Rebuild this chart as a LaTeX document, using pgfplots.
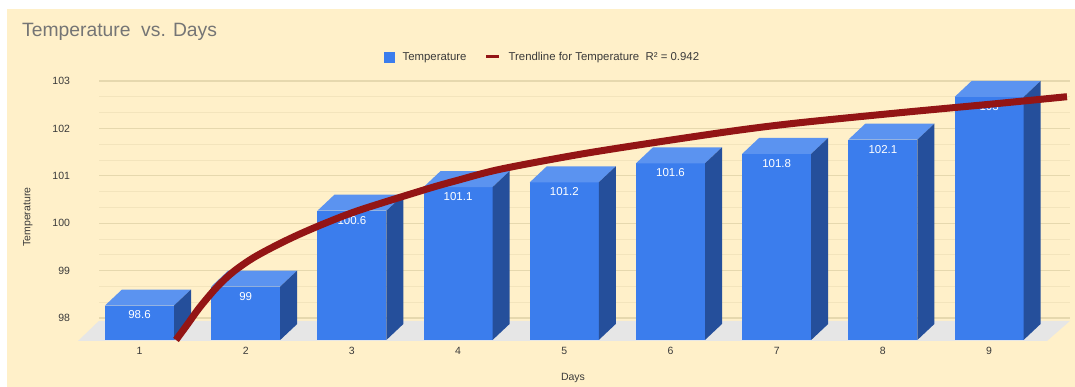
\documentclass[border=0pt]{standalone}
\usepackage{pgfplots}
\pgfplotsset{compat=1.18}
\usepackage{pgfplotstable}
\usepackage{fontspec}
\setmainfont{Liberation Sans}

\definecolor{bgcol}{HTML}{FFF0C9}
\definecolor{barfront}{HTML}{3B7DED}
\definecolor{bartop}{HTML}{5B93F0}
\definecolor{barside}{HTML}{254F9B}
\definecolor{floorcol}{HTML}{E6E6E6}
\definecolor{trendcol}{HTML}{931515}
\definecolor{gridmajor}{HTML}{E6D8AE}
\definecolor{gridminor}{HTML}{F3E4BC}
\definecolor{ticktext}{HTML}{3A3A3A}
\definecolor{titletext}{HTML}{757575}

% daily temperature readings
\pgfplotstableread{
day temp
1 98.6
2 99
3 100.6
4 101.1
5 101.2
6 101.6
7 101.8
8 102.1
9 103
}\temps

% bar geometry: half width, depth offsets, front base level
\def\hw{0.325}
\def\dx{0.16}
\def\dy{0.3376}
\def\yb{97.536}

\begin{document}
\begin{tikzpicture}
\fill[white] (0pt,0pt) rectangle (1075pt,387pt);
\fill[bgcol] (7pt,0pt) rectangle (1075pt,378pt);
\begin{axis}[
  at={(0pt,0pt)}, anchor=south west,
  scale only axis, width=1075pt, height=387pt,
  xmin=-0.3136, xmax=9.809, ymin=96.544, ymax=104.709,
  axis line style={draw=none}, tick style={draw=none},
  xtick={1,...,9}, ytick={98,...,103},
  /pgf/number format/assume math mode=true,
  tick label style={font=\fontsize{10.5}{12}\selectfont, text=ticktext},
  yticklabel style={anchor=east, xshift=73.5pt},
  xticklabel style={anchor=center, yshift=36pt},
  xlabel={Days}, ylabel={Temperature},
  label style={font=\fontsize{10.5}{12}\selectfont, text=ticktext},
  xlabel style={at={(rel axis cs:0.533,0.0233)}, anchor=center},
  ylabel style={at={(rel axis cs:0.026,0.439)}, anchor=center},
  legend style={at={(rel axis cs:0.3572,0.8527)}, anchor=west, draw=none, fill=none,
    font=\fontsize{11.4}{13}\selectfont, text=ticktext, inner sep=0pt,
    /tikz/every odd column/.append style={column sep=6pt},
    /tikz/every even column/.append style={column sep=16pt}},
  legend columns=-1,
]
% horizontal grid on the back wall
\pgfplotsinvokeforeach{98.333,98.667,99.333,99.667,100.333,100.667,101.333,101.667,102.333,102.667}{
  \draw[gridminor, line width=0.9pt] (axis cs:0.619,#1) -- (axis cs:9.762,#1);
}
\pgfplotsinvokeforeach{98,...,103}{
  \draw[gridmajor, line width=1.2pt] (axis cs:0.619,#1) -- (axis cs:9.762,#1);
}
% floor
\addplot[fill=floorcol, draw=none, forget plot] coordinates {(0.421,97.515) (9.545,97.515) (9.762,97.94) (0.619,97.94)};
% 3D bars with value labels
\pgfplotsforeachungrouped \i in {0,...,8}{%
  \pgfplotstablegetelem{\i}{day}\of\temps \let\dd\pgfplotsretval
  \pgfplotstablegetelem{\i}{temp}\of\temps \let\vv\pgfplotsretval
  \pgfmathsetmacro\xl{\dd-\hw}%
  \pgfmathsetmacro\xr{\dd+\hw}%
  \pgfmathsetmacro\xlb{\dd-\hw+\dx}%
  \pgfmathsetmacro\xrb{\dd+\hw+\dx}%
  \pgfmathsetmacro\yt{\vv-\dy}%
  \pgfmathsetmacro\ybb{\yb+\dy}%
  \pgfmathsetmacro\yl{\vv-\dy-0.2}%
  \edef\drawbar{%
    \noexpand\addplot[fill=barfront, draw=none, forget plot] coordinates {(\xl,\yb) (\xl,\yt) (\xr,\yt) (\xr,\yb)};
    \noexpand\addplot[fill=bartop, draw=none, forget plot] coordinates {(\xl,\yt) (\xlb,\vv) (\xrb,\vv) (\xr,\yt)};
    \noexpand\addplot[fill=barside, draw=none, forget plot] coordinates {(\xr,\yb) (\xr,\yt) (\xrb,\vv) (\xrb,\ybb)};
    \noexpand\node[text=white, font=\noexpand\fontsize{11.5}{13}\noexpand\selectfont] at (axis cs:\dd,\yl) {\vv};
  }%
  \drawbar
}
% logarithmic trendline
\addplot[trendcol, line width=7pt, smooth, line cap=butt, forget plot] coordinates {
  (1.3437,97.5359) (1.4473,97.8523) (1.5697,98.2321) (1.7298,98.6540) (1.8804,98.9705)
  (2.0687,99.2658) (2.2947,99.5401) (2.5113,99.7722) (2.7655,100.0148) (3.0763,100.2785)
  (3.7072,100.7215) (3.9896,100.9008) (4.3945,101.1371) (5.1478,101.4536) (5.9011,101.7194)
  (6.6544,101.9662) (7.2194,102.1203) (8.1610,102.3312) (9.1026,102.5295) (9.7335,102.6688)
};
\addlegendimage{legend image code/.code={\fill[barfront] (0pt,-5pt) rectangle (10pt,5pt);}}
\addlegendentry{Temperature}
\addlegendimage{legend image code/.code={\draw[trendcol, line width=3pt] (0pt,0pt) -- (13pt,0pt);}}
\addlegendentry{Trendline for Temperature\ \ R² = 0.942}
\end{axis}
\node[anchor=west, text=titletext, font=\fontsize{19.3}{23}\selectfont, inner sep=0pt] at (22pt,355pt) {Temperature\ \ vs. Days};
\end{tikzpicture}
\end{document}
